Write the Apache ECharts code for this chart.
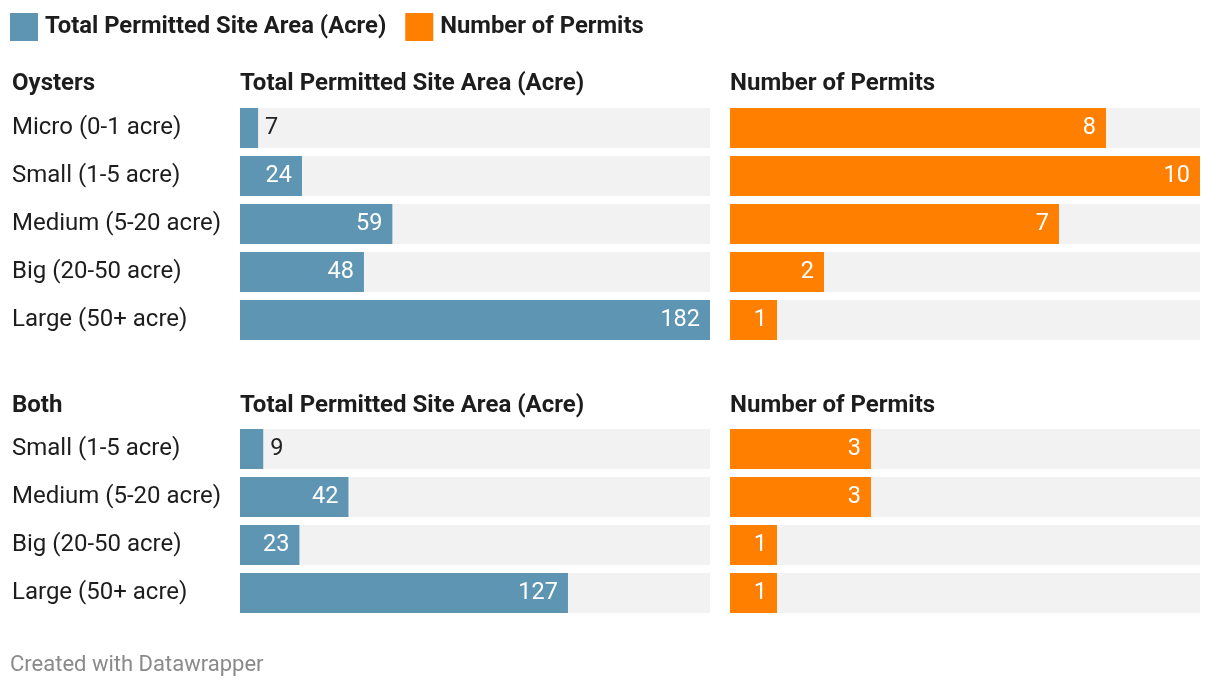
<!DOCTYPE html>
<html>
<head>
<meta charset="utf-8">
<script src="https://cdn.jsdelivr.net/npm/echarts@6/dist/echarts.min.js"></script>
<style>
html,body{margin:0;padding:0;background:#fff;}
#chart{width:1220px;height:688px;}
</style>
</head>
<body>
<div id="chart"></div>
<script>
const oystersCategories = ['Micro (0-1 acre)', 'Small (1-5 acre)', 'Medium (5-20 acre)', 'Big (20-50 acre)', 'Large (50+ acre)'];
const oystersArea = [7, 24, 59, 48, 182];
const oystersPermits = [8, 10, 7, 2, 1];

const bothCategories = ['Small (1-5 acre)', 'Medium (5-20 acre)', 'Big (20-50 acre)', 'Large (50+ acre)'];
const bothArea = [9, 42, 23, 127];
const bothPermits = [3, 3, 1, 1];

const areaName = 'Total Permitted Site Area (Acre)';
const permitsName = 'Number of Permits';
const areaMax = 182;
const permitsMax = 10;

const BLUE = '#5d95b3';
const ORANGE = '#ff7f00';
const FONT = 'Roboto';

const chart = echarts.init(document.getElementById('chart'), null, {renderer: 'canvas'});

function labeled(values, max) {
  return values.map(v => {
    const px = v / max * 470;
    const inside = px > 30;
    return {
      value: v,
      label: inside
        ? {position: 'insideRight', distance: 10, color: '#fff'}
        : {position: 'right', distance: 7, color: '#222'}
    };
  });
}

const grids = [
  {left: 240, width: 470, top: 104, height: 240},
  {left: 730, width: 470, top: 104, height: 240},
  {left: 240, width: 470, top: 425, height: 192},
  {left: 730, width: 470, top: 425, height: 192}
];

function yAxis(idx, cats, showLabels) {
  return {
    type: 'category', gridIndex: idx, data: cats, inverse: true,
    axisLine: {show: false}, axisTick: {show: false}, splitLine: {show: false},
    axisLabel: showLabels
      ? {show: true, align: 'left', margin: 228, fontFamily: FONT, fontSize: 24, color: '#1d1d1d'}
      : {show: false}
  };
}
function xAxis(idx, max) {
  return {type: 'value', gridIndex: idx, min: 0, max: max, show: false};
}
function barSeries(name, idx, values, max, color) {
  return {
    name: name, type: 'bar', xAxisIndex: idx, yAxisIndex: idx,
    barWidth: 40, itemStyle: {color: color},
    showBackground: true, backgroundStyle: {color: '#f2f2f2'},
    label: {show: true, fontFamily: FONT, fontSize: 23.5},
    data: labeled(values, max),
    animation: false
  };
}

const headerStyle = {fontFamily: FONT, fontSize: 24, fontWeight: 'bold', fill: '#1d1d1d'};
function header(text, x, y) {
  return {type: 'text', left: x, top: y, style: Object.assign({text: text}, headerStyle)};
}

chart.setOption({
  backgroundColor: '#fff',
  animation: false,
  legend: {
    left: 5, top: 8, itemWidth: 28, itemHeight: 28, itemGap: 19, icon: 'rect',
    data: [areaName, permitsName],
    textStyle: {fontFamily: FONT, fontSize: 23.8, fontWeight: 'bold', color: '#1d1d1d', padding: [6, 0, 0, 2]},
    selectedMode: false
  },
  grid: grids,
  xAxis: [xAxis(0, areaMax), xAxis(1, permitsMax), xAxis(2, areaMax), xAxis(3, permitsMax)],
  yAxis: [yAxis(0, oystersCategories, true), yAxis(1, oystersCategories, false),
          yAxis(2, bothCategories, true), yAxis(3, bothCategories, false)],
  series: [
    barSeries(areaName, 0, oystersArea, areaMax, BLUE),
    barSeries(permitsName, 1, oystersPermits, permitsMax, ORANGE),
    barSeries(areaName, 2, bothArea, areaMax, BLUE),
    barSeries(permitsName, 3, bothPermits, permitsMax, ORANGE)
  ],
  graphic: [
    header('Oysters', 12, 72),
    header(areaName, 240, 72),
    header(permitsName, 730, 72),
    header('Both', 12, 394),
    header(areaName, 240, 394),
    header(permitsName, 730, 394),
    {type: 'text', left: 10, top: 654, style: {text: 'Created with Datawrapper', fontFamily: FONT, fontSize: 22, fill: '#8a8a8a'}}
  ]
});
</script>
</body>
</html>
